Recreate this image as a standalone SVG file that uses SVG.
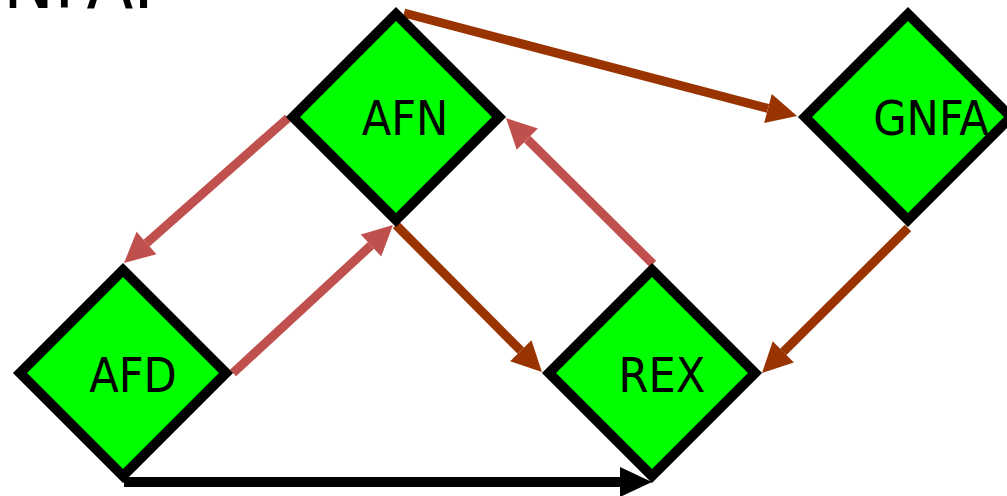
<svg xmlns="http://www.w3.org/2000/svg" width="1007" height="496" viewBox="0 0 1007 496">
<style>
.node path{fill:#00FF00;stroke:#000;stroke-width:10;stroke-linejoin:miter}
text{font-family:"DejaVu Sans Condensed","DejaVu Sans",sans-serif;fill:#000}
.lbl{font-size:48px;text-anchor:middle}
.brown{stroke:#993300;stroke-width:9;fill:none}
.red{stroke:#C0504D;stroke-width:9;fill:none}
.black{stroke:#000;stroke-width:10;fill:none}
</style>
<defs>
<marker id="ab" markerUnits="userSpaceOnUse" markerWidth="32" markerHeight="32" refX="0" refY="15" orient="auto" overflow="visible"><path d="M0,0 L30,15 L0,30 z" fill="#993300"/></marker>
<marker id="ar" markerUnits="userSpaceOnUse" markerWidth="32" markerHeight="32" refX="0" refY="15" orient="auto" overflow="visible"><path d="M0,0 L30,15 L0,30 z" fill="#C0504D"/></marker>
<marker id="ak" markerUnits="userSpaceOnUse" markerWidth="34" markerHeight="32" refX="0" refY="15" orient="auto" overflow="visible"><path d="M0,0 L32,15 L0,30 z" fill="#000"/></marker>
</defs>
<text x="3" y="8" style="font-size:76px">NFA:</text>
<g id="connectors">
<path class="brown" d="M404,13 L768,108.4" marker-end="url(#ab)"/>
<path class="red" d="M288,118 L146.5,243.1" marker-end="url(#ar)"/>
<path class="red" d="M233,373 L371,245.4" marker-end="url(#ar)"/>
<path class="brown" d="M396,225 L520.8,350.7" marker-end="url(#ab)"/>
<path class="red" d="M653,264 L527.3,139.2" marker-end="url(#ar)"/>
<path class="brown" d="M908,228 L783.3,351.9" marker-end="url(#ab)"/>
<path class="black" d="M124,482 L620,482" marker-end="url(#ak)"/>
</g>
<g id="AFN" class="node"><path d="M396,14 L499,117 L396,220 L293,117 z"/><text class="lbl" x="405" y="135">AFN</text></g>
<g id="GNFA" class="node"><path d="M908,14 L1011,117 L908,220 L805,117 z"/><text class="lbl" x="931" y="135">GNFA</text></g>
<g id="AFD" class="node"><path d="M123,270 L226,373 L123,476 L20,373 z"/><text class="lbl" x="133" y="392">AFD</text></g>
<g id="REX" class="node"><path d="M652,270 L755,373 L652,476 L549,373 z"/><text class="lbl" x="662" y="392">REX</text></g>
</svg>
